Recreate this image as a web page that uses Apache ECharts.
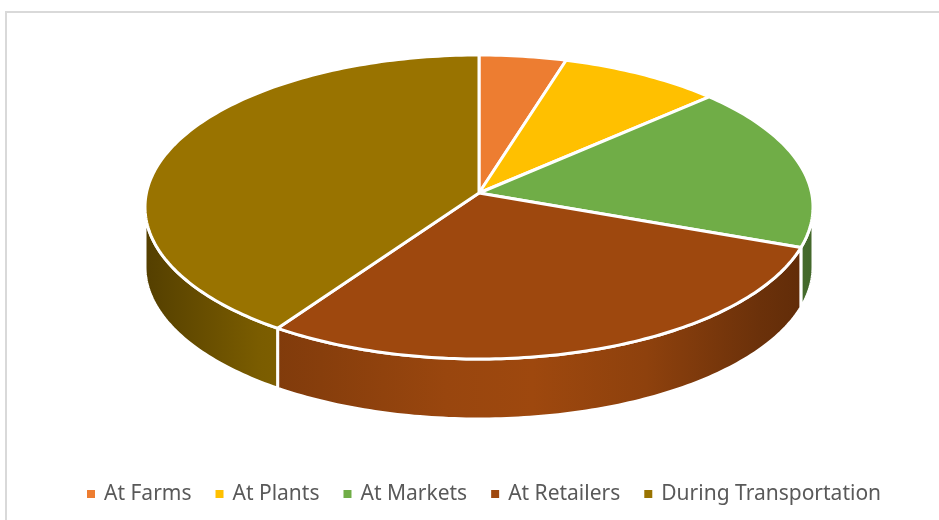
<!DOCTYPE html>
<html>
<head>
<meta charset="utf-8">
<title>Food Loss by Stage</title>
<script src="https://cdn.jsdelivr.net/npm/echarts@6/dist/echarts.min.js"></script>
<style>
  html, body { margin: 0; padding: 0; background: #ffffff; }
  #chart { width: 939px; height: 520px; }
</style>
</head>
<body>
<div id="chart"></div>
<script>
// Stages and their share of the loss
const categories = ['At Farms', 'At Plants', 'At Markets', 'At Retailers', 'During Transportation'];
const values = [4.2, 7.9, 17.2, 31.0, 39.7];
const colors = ['#ED7D31', '#FFC000', '#70AD47', '#9E480E', '#997300'];

// Tilted-disc geometry (pixels)
const CX = 479, CY = 207, RX = 334, RY = 152, DEPTH = 60, APEX_DY = -14;
const STEP = Math.PI / 180;

const total = values.reduce((a, b) => a + b, 0);
const angles = [];
let acc = 0;
values.forEach(v => {
  const a0 = acc / total * Math.PI * 2;
  acc += v;
  angles.push([a0, acc / total * Math.PI * 2]);
});

function rim(t, dy) {
  return [CX + RX * Math.sin(t), CY - RY * Math.cos(t) + (dy || 0)];
}

function arc(a0, a1, dy) {
  const pts = [];
  const n = Math.max(2, Math.ceil((a1 - a0) / STEP));
  for (let k = 0; k <= n; k++) pts.push(rim(a0 + (a1 - a0) * k / n, dy));
  return pts;
}

function shade(hex, f) {
  const n = parseInt(hex.slice(1), 16);
  const c = [(n >> 16) & 255, (n >> 8) & 255, n & 255].map(v => Math.round(Math.min(255, v * f)));
  return 'rgb(' + c.join(',') + ')';
}

// Cylindrical lighting across the wall, left to right
const wallLight = [[0, 0.55], [0.17, 0.8], [0.45, 0.97], [0.58, 1.0], [0.75, 0.9], [0.92, 0.68], [1, 0.6]];

function wallFill(hex) {
  return {
    type: 'linear', global: true,
    x: CX - RX, y: 0, x2: CX + RX, y2: 0,
    colorStops: wallLight.map(s => ({ offset: s[0], color: shade(hex, s[1]) }))
  };
}

// Outer walls: only the front half of the rim is visible
const wallSeries = {
  type: 'custom',
  name: 'walls',
  coordinateSystem: 'none',
  silent: true,
  z: 1,
  data: values.map(v => [v]),
  renderItem: function (params) {
    const i = params.dataIndex;
    const s = Math.max(angles[i][0], Math.PI / 2);
    const e = Math.min(angles[i][1], Math.PI * 3 / 2);
    if (s >= e) return null;
    const pts = arc(s, e, 0).concat(arc(s, e, DEPTH).reverse());
    return {
      type: 'polygon',
      shape: { points: pts },
      style: { fill: wallFill(colors[i]), stroke: '#ffffff', lineWidth: 3, lineJoin: 'round' }
    };
  }
};

// Top faces, one series per stage so the legend lists each stage
const topSeries = categories.map((name, i) => ({
  type: 'custom',
  name: name,
  coordinateSystem: 'none',
  silent: true,
  z: 2,
  itemStyle: { color: colors[i] },
  data: [[values[i]]],
  renderItem: function () {
    const pts = [[CX, CY + APEX_DY]].concat(arc(angles[i][0], angles[i][1], 0));
    return {
      type: 'polygon',
      shape: { points: pts },
      style: { fill: colors[i], stroke: '#ffffff', lineWidth: 3, lineJoin: 'round' }
    };
  }
}));

const chart = echarts.init(document.getElementById('chart'), null, { renderer: 'canvas' });
chart.setOption({
  backgroundColor: '#ffffff',
  animation: false,
  graphic: [{
    type: 'rect',
    shape: { x: 6, y: 12, width: 960, height: 540 },
    style: { fill: 'none', stroke: '#d9d9d9', lineWidth: 2 },
    silent: true
  }],
  legend: {
    data: categories,
    left: 82,
    top: 477,
    icon: 'rect',
    itemWidth: 8,
    itemHeight: 8,
    itemGap: 24,
    selectedMode: false,
    textStyle: {
      color: '#595959',
      fontFamily: 'Noto Sans',
      fontSize: 21,
      lineHeight: 24,
      padding: [0, 0, 0, 4]
    }
  },
  series: [wallSeries].concat(topSeries)
});
</script>
</body>
</html>
